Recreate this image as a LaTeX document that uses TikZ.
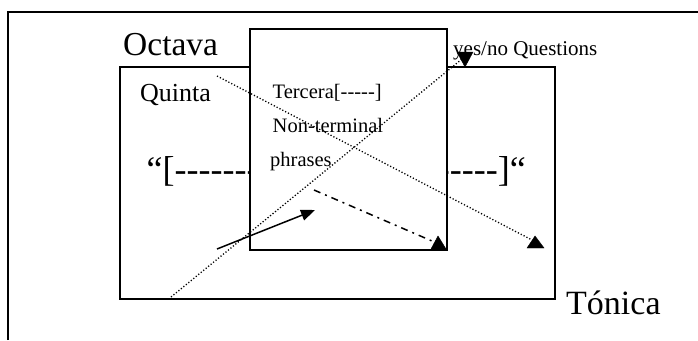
\documentclass[tikz,border=0pt]{standalone}
\usepackage{fontspec}
\setmainfont{Liberation Serif}
\usetikzlibrary{arrows.meta}
% a hyphen that never joins into an en dash
\newcommand\hy{-\kern0pt}
\begin{document}
\begin{tikzpicture}[x=1pt,y=-1pt,
  frame/.style={draw=black,line width=1.6pt},
  box/.style={frame,inner sep=0pt,anchor=north west},
  label/.style={inner sep=0pt,anchor=base west},
  dotline/.style={line width=1.3pt,dash pattern=on 1.2pt off 2pt},
  dashdotline/.style={line width=1.5pt,dash pattern=on 7pt off 5pt on 2pt off 5pt},
  tri/.style={fill=black,draw=black,line width=0.4pt}]
\useasboundingbox (0,0) rectangle (698,340);
\fill[white] (0,0) rectangle (698,340);

% outer frame (only its left and top sides are on the page)
\coordinate (fb) at (8,340);
\coordinate (fc) at (8,12);
\coordinate (fr) at (698,12);
\draw[frame] (fb) -- (fc) -- (fr);

% big box
\node[box,minimum width=435pt,minimum height=232pt] (quinta) at (119,66) {};

% bracket texts on both sides of the middle box
\node[label,font=\fontsize{36}{40}\selectfont] (lbr) at (146.5,181) {“[\hy\hy\hy\hy\hy\hy\hy};
\node[inner sep=0pt,anchor=base east,font=\fontsize{36}{40}\selectfont] (rbr) at (526,181) {\hy\hy\hy\hy\hy]“};

% middle box
\node[box,fill=white,minimum width=197pt,minimum height=221pt] (tercera) at (249,28) {};

% labels
\node[label,font=\fontsize{33.5}{38}\selectfont] (octava) at (123,55) {Octava};
\node[label,font=\fontsize{26}{30}\selectfont] (quintaT) at (140,101) {Quinta};
\node[label,font=\fontsize{20.5}{24}\selectfont] (t1) at (272.5,98) {Tercera[\hy\hy\hy\hy\hy]};
\node[label,font=\fontsize{20.5}{24}\selectfont] (t2) at (272.5,132) {Non-terminal};
\node[label,font=\fontsize{20.5}{24}\selectfont] (t3) at (270,166.5) {phrases};
\node[label,font=\fontsize{21}{24}\selectfont] (yn) at (453,55) {yes/no Questions};
\node[label,font=\fontsize{34}{38}\selectfont] (tonica) at (566,314) {Tónica};

% connectors
\coordinate (a1) at (217,76);   \coordinate (b1) at (532,240);
\coordinate (a2) at (171,297);  \coordinate (b2) at (462,59);
\coordinate (a3) at (314,190);  \coordinate (b3) at (432,241);
\coordinate (a4) at (217,249);  \coordinate (b4) at (315,210);
\draw[dotline] (a1) -- (b1);
\draw[dotline] (a2) -- (b2);
\draw[dashdotline] (a3) -- (b3);
\draw[line width=1.5pt,-{Triangle[length=14pt,width=11pt]}] (a4) -- (b4);

% triangle heads
\fill[tri] (535,236) -- (544,248) -- (527,248) -- cycle;
\fill[tri] (457,52) -- (473,52) -- (465,67) -- cycle;
\fill[tri] (438,236) -- (446,249) -- (431,249) -- cycle;
\end{tikzpicture}
\end{document}
